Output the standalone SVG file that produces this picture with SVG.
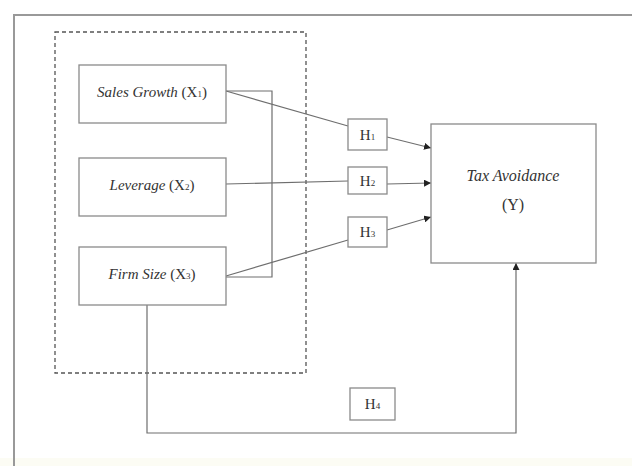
<svg xmlns="http://www.w3.org/2000/svg" width="632" height="466" viewBox="0 0 632 466">
<style>
.box{fill:#fff;stroke:#8a8a8a;stroke-width:1.3}
.ln{fill:none;stroke:#6e6e6e;stroke-width:1.2}
.t{font-family:"Liberation Serif",serif;font-size:15px;fill:#333;text-anchor:middle}
.i{font-style:italic}
.sub{font-size:9px}
.big{font-size:16px}
</style>
<defs>
<marker id="ah" viewBox="0 0 10 10" refX="10" refY="5" markerWidth="7" markerHeight="7" orient="auto" markerUnits="userSpaceOnUse">
<path d="M0,0 L10,5 L0,10 z" fill="#222"/>
</marker>
</defs>
<rect x="0" y="0" width="632" height="466" fill="#fff"/>
<rect x="0" y="458" width="632" height="8" fill="#fcfcf4"/>
<g id="frame">
<path d="M14,466 V15 H632" fill="none" stroke="#999" stroke-width="2"/>
</g>
<g id="group-x">
<rect x="55" y="32" width="251" height="341" fill="none" stroke="#555" stroke-width="1.3" stroke-dasharray="4,3"/>
</g>
<g id="connectors">
<path class="ln" d="M226,91 H272 V277 H226"/>
<path class="ln" d="M226,91 L348,126"/>
<path class="ln" d="M226,184 L348,181"/>
<path class="ln" d="M226,276 L348,240"/>
<path class="ln" d="M387,137 L431,148" marker-end="url(#ah)"/>
<path class="ln" d="M387,184 L431,183" marker-end="url(#ah)"/>
<path class="ln" d="M387,230 L431,217" marker-end="url(#ah)"/>
<path class="ln" d="M147,305 V433 H516 V263" marker-end="url(#ah)"/>
</g>
<g id="sales-growth">
<rect class="box" x="79" y="65" width="147" height="58"/>
<text class="t" x="152" y="97"><tspan class="i">Sales Growth</tspan> (X<tspan class="sub">1</tspan>)</text>
</g>
<g id="leverage">
<rect class="box" x="79" y="158" width="147" height="58"/>
<text class="t" x="152" y="190"><tspan class="i">Leverage</tspan> (X<tspan class="sub">2</tspan>)</text>
</g>
<g id="firm-size">
<rect class="box" x="79" y="247" width="147" height="58"/>
<text class="t" x="152" y="279"><tspan class="i">Firm Size</tspan> (X<tspan class="sub">3</tspan>)</text>
</g>
<g id="h1">
<rect class="box" x="348" y="119" width="39" height="31"/>
<text class="t" x="367.5" y="140">H<tspan class="sub">1</tspan></text>
</g>
<g id="h2">
<rect class="box" x="348" y="167" width="39" height="27"/>
<text class="t" x="367.5" y="186">H<tspan class="sub">2</tspan></text>
</g>
<g id="h3">
<rect class="box" x="348" y="217" width="39" height="30"/>
<text class="t" x="367.5" y="237">H<tspan class="sub">3</tspan></text>
</g>
<g id="h4">
<rect class="box" x="350" y="388" width="45" height="32"/>
<text class="t" x="372.5" y="409">H<tspan class="sub">4</tspan></text>
</g>
<g id="tax-avoidance">
<rect class="box" x="431" y="124" width="165" height="139"/>
<text class="t i big" x="513" y="181">Tax Avoidance</text>
<text class="t big" x="513" y="210">(Y)</text>
</g>
</svg>
